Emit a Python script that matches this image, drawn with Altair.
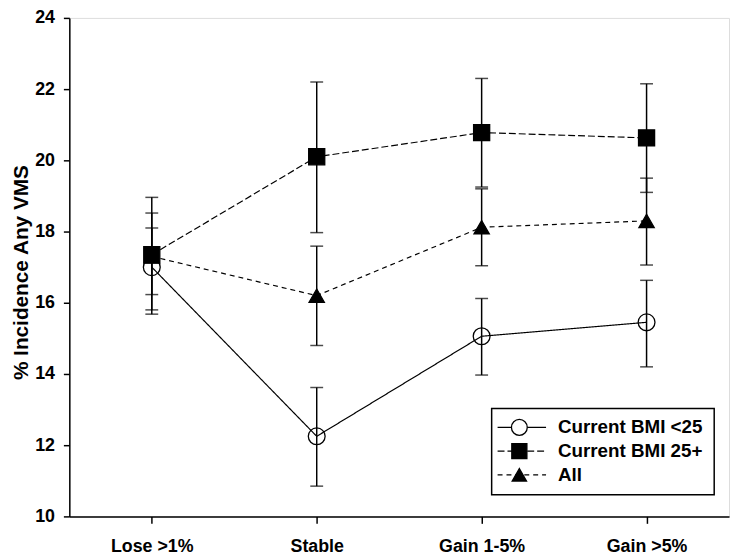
import altair as alt
import pandas as pd

categories = ["Lose >1%", "Stable", "Gain 1-5%", "Gain >5%"]
series_names = ["Current BMI <25", "Current BMI 25+", "All"]

bmi_lt25 = [17.0, 12.25, 15.06, 15.45]
bmi_lt25_lo = [15.8, 10.85, 13.97, 14.2]
bmi_lt25_hi = [18.1, 13.62, 16.12, 16.63]

bmi_25p = [17.35, 20.1, 20.78, 20.63]
bmi_25p_lo = [15.68, 17.97, 19.25, 19.1]
bmi_25p_hi = [18.96, 22.2, 22.3, 22.15]

all_vals = [17.3, 16.2, 18.12, 18.3]
all_lo = [16.23, 14.8, 17.04, 17.06]
all_hi = [18.52, 17.59, 19.2, 19.5]

y_ticks = [10, 12, 14, 16, 18, 20, 22, 24]

series_shapes = ["circle", "square", "triangle-up"]
series_fills = ["transparent", "black", "black"]
series_dashes = [[1, 0], [7, 3], [5, 4]]
series_sizes = [289, 240, 380]

FONT = "Liberation Sans"
PLOT_TOP = 15
PLOT_H = 504

# draw order: circle, triangle, square (square on top)
rows = []
for name, vals, los, his in [
    (series_names[0], bmi_lt25, bmi_lt25_lo, bmi_lt25_hi),
    (series_names[2], all_vals, all_lo, all_hi),
    (series_names[1], bmi_25p, bmi_25p_lo, bmi_25p_hi),
]:
    for c, v, lo, hi in zip(categories, vals, los, his):
        rows.append({"cat": c, "series": name, "val": v, "lo": lo, "hi": hi})
df = pd.DataFrame(rows)

x_enc = alt.X(
    "cat:N",
    sort=categories,
    scale=alt.Scale(type="point", padding=0.5),
    axis=alt.Axis(
        title=None, labelAngle=0, labelFontSize=18, labelFontWeight="bold",
        labelFont=FONT, labelColor="black", tickSize=7, labelPadding=14,
        tickColor="black", tickWidth=1.5, domainColor="black", domainWidth=1.5,
    ),
)
y_scale = alt.Scale(domain=[10, 24], nice=False, zero=False)
y_axis = alt.Axis(
    values=y_ticks, title="% Incidence Any VMS", titleFontSize=21,
    titleFontWeight="bold", titleFont=FONT, titleColor="black",
    titleX=-48, titleY=272 - PLOT_TOP, titleAngle=270, titleBaseline="middle",
    titleAlign="center",
    labelFontSize=18, labelFontWeight="bold", labelFont=FONT, labelColor="black",
    tickSize=6, labelPadding=9, tickColor="black", tickWidth=1.5,
    domainColor="black", domainWidth=1.5, grid=False,
)

base = alt.Chart(df)

lines = base.mark_line(color="black", strokeWidth=1.2).encode(
    x=x_enc,
    y=alt.Y("val:Q", scale=y_scale, axis=y_axis),
    detail="series:N",
    strokeDash=alt.StrokeDash(
        "series:N", scale=alt.Scale(domain=series_names, range=series_dashes), legend=None
    ),
)

bars = base.mark_rule(color="black", strokeWidth=1.5).encode(
    x=alt.X("cat:N", sort=categories),
    y=alt.Y("lo:Q"),
    y2="hi:Q",
)

caps = base.transform_fold(["lo", "hi"], as_=["end", "yv"]).mark_tick(
    color="black", thickness=1.5, size=13, orient="horizontal"
).encode(
    x=alt.X("cat:N", sort=categories),
    y=alt.Y("yv:Q"),
)

points = base.mark_point(filled=True, stroke="black", strokeWidth=1.3, opacity=1).encode(
    x=alt.X("cat:N", sort=categories),
    y=alt.Y("val:Q"),
    shape=alt.Shape("series:N", scale=alt.Scale(domain=series_names, range=series_shapes), legend=None),
    fill=alt.Fill("series:N", scale=alt.Scale(domain=series_names, range=series_fills), legend=None),
    size=alt.Size("series:N", scale=alt.Scale(domain=series_names, range=series_sizes), legend=None),
)

main = alt.layer(lines, bars, caps, points)

# legend (positions relative to the plot area)
leg_df = pd.DataFrame({"series": series_names, "row": [0, 1, 2]})
leg_y = alt.Y(
    "row:O",
    scale=alt.Scale(type="point", range=[429 - PLOT_TOP, 477 - PLOT_TOP], padding=0),
    axis=None,
)
leg_base = alt.Chart(leg_df)

leg_box = leg_base.transform_filter("datum.row == 0").mark_rect(
    fill="white", stroke="black", strokeWidth=1.5
).encode(
    x=alt.value(427), x2=alt.value(652),
    y=alt.value(410 - PLOT_TOP), y2=alt.value(497 - PLOT_TOP),
)

leg_lines = leg_base.mark_rule(color="black", strokeWidth=1.2).encode(
    x=alt.value(433), x2=alt.value(482), y=leg_y,
    strokeDash=alt.StrokeDash(
        "series:N", scale=alt.Scale(domain=series_names, range=series_dashes), legend=None
    ),
)
leg_pts = leg_base.mark_point(filled=True, stroke="black", strokeWidth=1.3, opacity=1).encode(
    x=alt.value(455), y=leg_y,
    shape=alt.Shape("series:N", scale=alt.Scale(domain=series_names, range=series_shapes), legend=None),
    fill=alt.Fill("series:N", scale=alt.Scale(domain=series_names, range=["white", "black", "black"]), legend=None),
    size=alt.Size("series:N", scale=alt.Scale(domain=series_names, range=[256, 210, 320]), legend=None),
)
leg_text = leg_base.mark_text(
    align="left", baseline="middle", font=FONT, fontSize=19, fontWeight="bold", color="black"
).encode(x=alt.value(494), y=leg_y, text="series:N")

legend = alt.layer(leg_box, leg_lines, leg_pts, leg_text)

chart = alt.layer(main, legend).resolve_scale(
    y="independent", x="independent", shape="independent", fill="independent",
    strokeDash="independent", size="independent",
).properties(
    width=667, height=PLOT_H,
    autosize=alt.AutoSizeParams(type="none"),
    padding={"left": 62, "top": PLOT_TOP - 8, "right": 3, "bottom": 36},
).configure_view(stroke="black", strokeWidth=1.5).configure(background="white")

chart.save("out.html", embed_options={"renderer": "svg", "actions": False})
